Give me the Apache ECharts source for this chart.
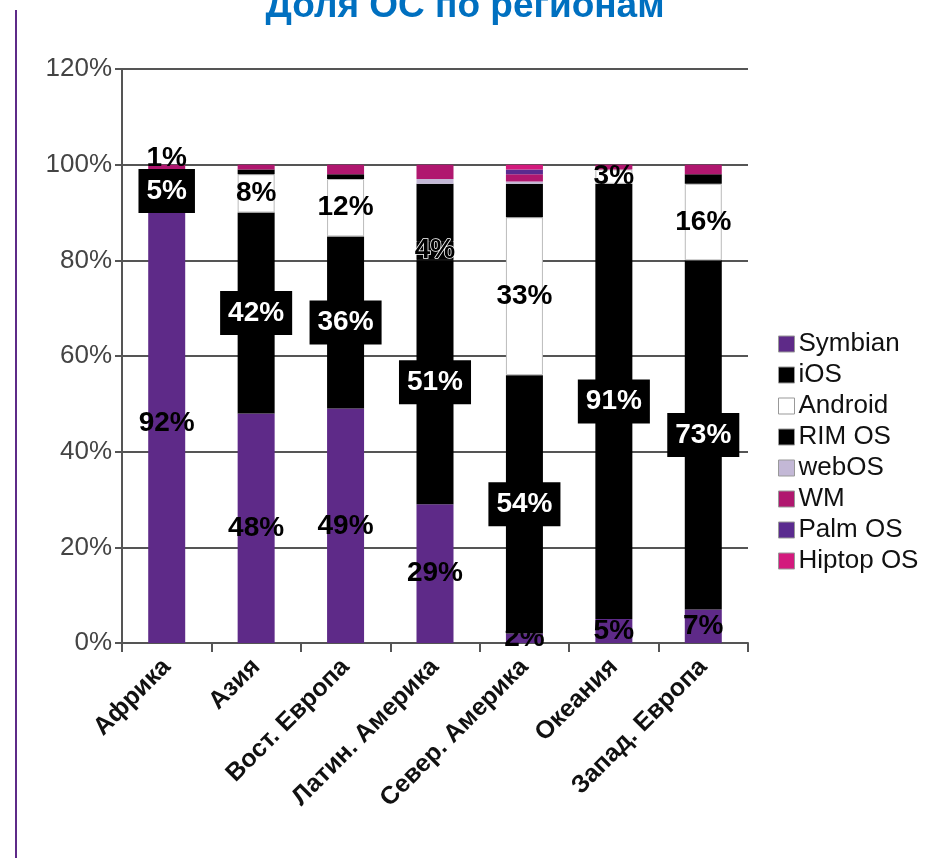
<!DOCTYPE html>
<html>
<head>
<meta charset="utf-8">
<script src="https://cdn.jsdelivr.net/npm/echarts@6/dist/echarts.min.js"></script>
<style>
html,body{margin:0;padding:0;background:#fff;}
#chart{width:930px;height:862px;}
</style>
</head>
<body>
<div id="chart"></div>
<script>
var titleText = 'Доля ОС по регионам';
var regions = ['Африка', 'Азия', 'Вост. Европа', 'Латин. Америка', 'Север. Америка', 'Океания', 'Запад. Европа'];
var seriesNames = ['Symbian', 'iOS', 'Android', 'RIM OS', 'webOS', 'WM', 'Palm OS', 'Hiptop OS'];
var symbian = [92, 48, 49, 29, 2, 5, 7];
var ios     = [5, 42, 36, 51, 54, 91, 73];
var android = [1, 8, 12, 4, 33, 3, 16];
var rim     = [1, 1, 1, 12, 7, 0, 2];
var webos   = [0, 0, 0, 1, 0.5, 0, 0];
var wm      = [1, 1, 2, 3, 1.5, 1, 2];
var palm    = [0, 0, 0, 0, 1, 0, 0];
var hiptop  = [0, 0, 0, 0, 1, 0, 0];
var yTicks = [0, 20, 40, 60, 80, 100, 120];

var colors = ['#5e2a88', '#000000', '#ffffff', '#000000', '#c3b8d6', '#b0176f', '#5a2b8f', '#d31a7d'];
var values = [symbian, ios, android, rim, webos, wm, palm, hiptop];
var font = '"Liberation Sans", Arial, sans-serif';

var baseLabel = {
  show: true, position: 'inside', formatter: '{c}%',
  fontFamily: font, fontSize: 28, fontWeight: 'bold', color: '#000'
};

function buildSeries(i) {
  var s = {
    name: seriesNames[i], type: 'bar', stack: 'os', barWidth: 37,
    itemStyle: { color: colors[i] },
    label: { show: false },
    data: values[i].map(function (v) { return v; })
  };
  if (i === 0) s.label = baseLabel;
  if (i === 1) s.label = Object.assign({}, baseLabel, { color: '#fff', backgroundColor: '#000', padding: [9, 8, 7, 8] });
  if (i === 2) {
    s.label = baseLabel;
    s.itemStyle = { color: '#fff', borderColor: '#bbb', borderWidth: 1 };
    s.data = values[i].map(function (v, k) {
      var d = { value: v };
      if (regions[k] === 'Африка') d.label = { position: 'top', distance: 2 };
      if (regions[k] === 'Латин. Америка') {
        d.itemStyle = { color: '#000', borderColor: '#000' };
        d.label = { textBorderColor: '#fff', textBorderWidth: 1.5 };
      }
      return d;
    });
  }
  return s;
}

var chart = echarts.init(document.getElementById('chart'), null, { renderer: 'canvas' });
chart.setOption({
  animation: false,
  backgroundColor: '#fff',
  title: {
    text: titleText, left: 'center', top: -17,
    textStyle: { fontFamily: font, fontSize: 37, fontWeight: 'bold', color: '#0070c0' }
  },
  graphic: [{
    type: 'line', shape: { x1: 16, y1: 10, x2: 16, y2: 858 },
    style: { stroke: '#5e2a88', lineWidth: 2 }
  }],
  legend: {
    orient: 'vertical', left: 773, top: 326,
    itemWidth: 16, itemHeight: 16, itemGap: 5, icon: 'rect',
    itemStyle: { borderColor: '#999', borderWidth: 1 },
    textStyle: { fontFamily: font, fontSize: 26, color: '#111', padding: [0, 0, 0, -1] },
    data: seriesNames
  },
  grid: { left: 122, right: 182, top: 69, bottom: 219, containLabel: false },
  xAxis: {
    type: 'category', data: regions,
    axisLine: { lineStyle: { color: '#555', width: 2 } },
    axisTick: { show: true, length: 9, lineStyle: { color: '#555', width: 2 } },
    axisLabel: { rotate: 45, margin: 20, fontFamily: font, fontSize: 25, fontWeight: 'bold', color: '#111', interval: 0 }
  },
  yAxis: {
    type: 'value', min: 0, max: 120, interval: 20,
    axisLine: { show: true, lineStyle: { color: '#555', width: 2 } },
    axisTick: { show: true, length: 7, lineStyle: { color: '#555', width: 2 } },
    splitLine: { show: true, lineStyle: { color: '#555', width: 2 } },
    axisLabel: {
      margin: 10, fontFamily: font, fontSize: 26, color: '#444',
      formatter: function (v) { return yTicks.indexOf(v) >= 0 ? v + '%' : ''; }
    }
  },
  series: seriesNames.map(function (n, i) { return buildSeries(i); })
});
</script>
</body>
</html>
